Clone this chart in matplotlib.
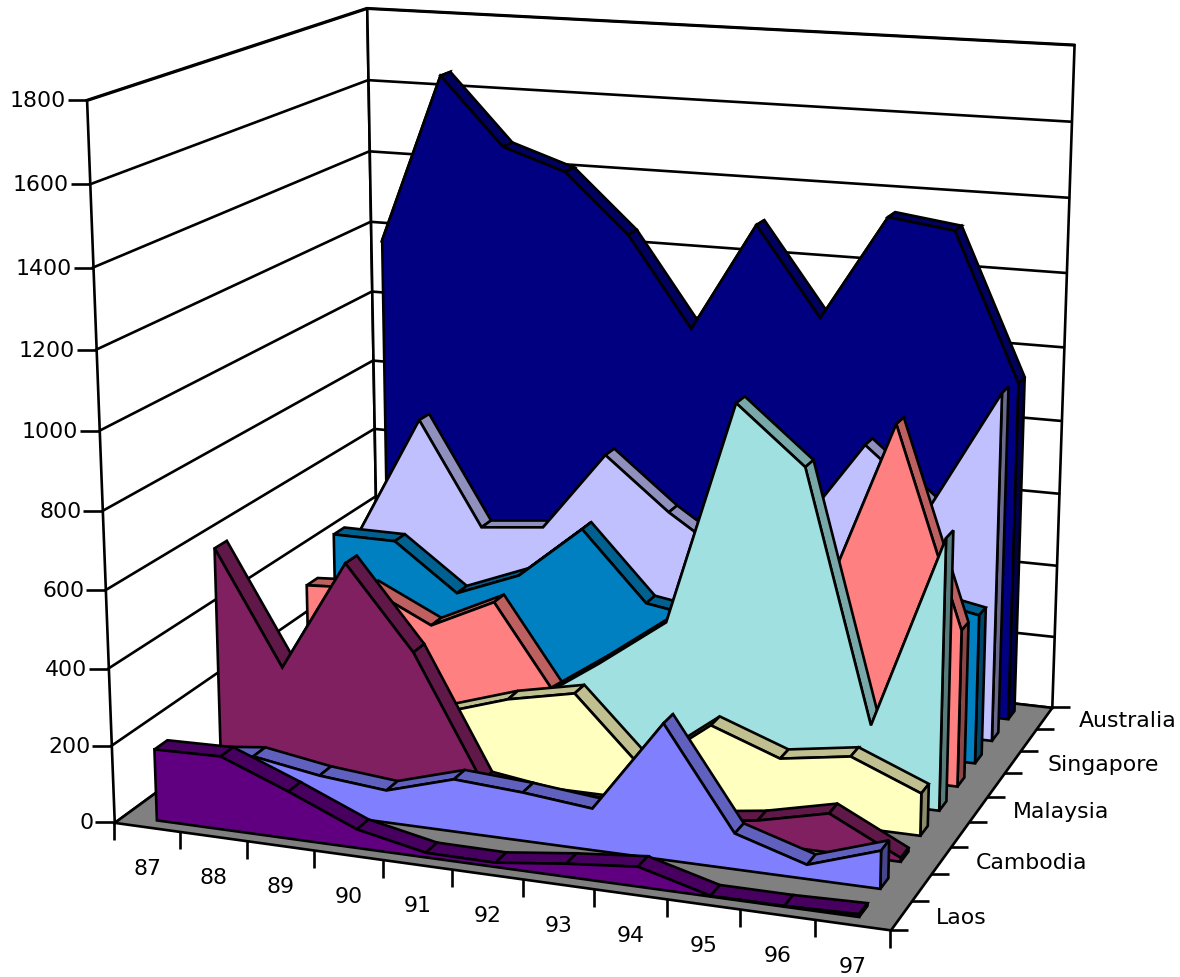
import matplotlib
matplotlib.use('Agg')
import matplotlib.pyplot as plt
import matplotlib.markers as mmarkers
from matplotlib.colors import to_rgb
from mpl_toolkits.mplot3d import proj3d
from mpl_toolkits.mplot3d.art3d import Poly3DCollection

years = ['87', '88', '89', '90', '91', '92', '93', '94', '95', '96', '97']
depth_labels = ['Laos', '', 'Cambodia', '', 'Malaysia', '', 'Singapore', '', 'Australia']
value_ticks = [0, 200, 400, 600, 800, 1000, 1200, 1400, 1600, 1800]

# front to back (hidden stretches are guesses)
laos = [186, 190, 122, 48, 12, 11, 33, 50, 2, 2, 7]
series2 = [108, 128, 100, 84, 136, 125, 107, 346, 91, 36, 96]
cambodia = [600, 304, 598, 385, 68, 43, 33, 33, 58, 100, 10]
series4 = [53, 75, 124, 167, 224, 261, 84, 220, 155, 183, 110]
malaysia = [13, 18, 23, 30, 162, 283, 413, 1001, 854, 203, 708]
series6 = [343, 354, 270, 354, 106, 153, 200, 437, 463, 935, 416]
singapore = [435, 434, 306, 375, 522, 336, 308, 383, 402, 435, 401]
series8 = [400, 728, 441, 459, 679, 537, 422, 526, 773, 627, 944]
australia = [1181, 1648, 1464, 1406, 1246, 1001, 1298, 1059, 1344, 1320, 927]

all_series = [laos, series2, cambodia, series4, malaysia, series6, singapore, series8, australia]
colors = ['#600080', '#8080FF', '#802060', '#FFFFC0', '#A0E0E0',
          '#FF8080', '#0080C0', '#C0C0FF', '#000080']

LW = 1.9
FS = 15.8
n_x = len(years)
n_y = len(all_series)

fig = plt.figure(figsize=(11.8, 9.78), dpi=100)
# camera and box fitted to the corners of the chart box
cx, cy, side = 588.02, 442.6, 1180.0
ax = fig.add_axes([(cx - side / 2) / 1180, (978 - cy - side / 2) / 978, side / 1180, side / 978],
                  projection='3d', computed_zorder=False)
ax.set_box_aspect((1.1013, 0.9035, 1), zoom=1.0227)
ax.view_init(elev=14.7703, azim=-70.0076, roll=0.0335)
ax.set_proj_type('persp', focal_length=0.5532)
ax.set_xlim(0, n_x, view_margin=0)
ax.set_ylim(0, n_y, view_margin=0)
ax.set_zlim(0, 1800, view_margin=0)
ax.set_xticks([])
ax.set_yticks([])
ax.set_zticks([])
ax.set_axis_off()

order = [1]


def face(verts, color):
    poly = Poly3DCollection([verts], facecolors=color, edgecolors='k', linewidths=LW,
                            joinstyle='miter', zorder=order[0])
    ax.add_collection3d(poly, autolim=False)
    order[0] += 1


def shade(color, k):
    return tuple(c * k for c in to_rgb(color))


def label(x, y, z, text, dx, dy, ha):
    # 2D annotation at the projected spot, offset in pixels
    u, v, _ = proj3d.proj_transform(x, y, z, ax.get_proj())
    ax.annotate(text, xy=(u, v), xycoords='data', xytext=(dx, dy), textcoords='offset pixels',
                ha=ha, va='center', fontsize=FS, color='k', zorder=500)


# walls and floor
ztop = value_ticks[-1]
face([(0, 0, 0), (0, n_y, 0), (0, n_y, ztop), (0, 0, ztop)], 'white')
face([(0, n_y, 0), (n_x, n_y, 0), (n_x, n_y, ztop), (0, n_y, ztop)], 'white')
for v in value_ticks[1:]:
    ax.plot([0, 0, n_x], [0, n_y, n_y], [v, v, v], color='k', lw=LW, zorder=order[0])
order[0] += 1
face([(0, 0, 0), (n_x, 0, 0), (n_x, n_y, 0), (0, n_y, 0)], '#808080')

# ticks
ax.plot([0] * len(value_ticks), [0] * len(value_ticks), value_ticks, ls='none', marker=mmarkers.TICKLEFT,
        ms=14, mew=LW, color='k', zorder=400)
ax.plot(range(n_x + 1), [0] * (n_x + 1), [0] * (n_x + 1), ls='none', marker=mmarkers.TICKDOWN,
        ms=13, mew=LW, color='k', zorder=400)
ax.plot([n_x] * (n_y + 1), range(n_y + 1), [0] * (n_y + 1), ls='none', marker=mmarkers.TICKRIGHT,
        ms=13, mew=LW, color='k', zorder=400)

for v in value_ticks:
    label(0, 0, v, str(v), -21, 0, 'right')
for i, yr in enumerate(years):
    label(i + 0.5, 0, 0, yr, 0, -41, 'center')
for j, name in enumerate(depth_labels):
    if name:
        label(n_x, j + 0.5, 0, name, 35, -2, 'left')

# slabs, back one first
for j in range(n_y - 1, -1, -1):
    vals = all_series[j]
    col = colors[j]
    yf = j + 0.28
    yb = j + 0.67
    for i in range(n_x - 1):
        face([(i + 0.5, yf, vals[i]), (i + 1.5, yf, vals[i + 1]),
              (i + 1.5, yb, vals[i + 1]), (i + 0.5, yb, vals[i])], shade(col, 0.75))
    xe = n_x - 0.5
    face([(xe, yf, 0), (xe, yb, 0), (xe, yb, vals[-1]), (xe, yf, vals[-1])], shade(col, 0.55))
    front = [(0.5, yf, 0)] + [(i + 0.5, yf, vals[i]) for i in range(n_x)] + [(xe, yf, 0)]
    face(front, col)

fig.savefig('out.png', dpi=100)
